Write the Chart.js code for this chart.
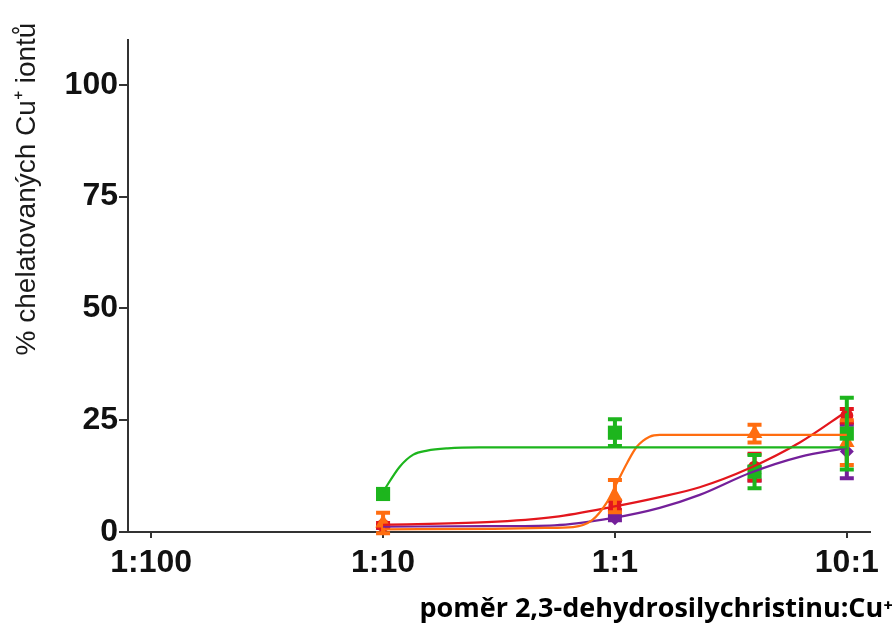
<!DOCTYPE html>
<html>
<head>
<meta charset="utf-8">
<script src="https://cdn.jsdelivr.net/npm/chart.js@4"></script>
<style>
  html, body { margin: 0; padding: 0; background: #fff; }
  canvas { display: block; }
</style>
</head>
<body>
<canvas id="chart" width="896" height="630"></canvas>
<script>
// Ratio ticks (molar ratio of 2,3-dehydrosilychristin to Cu+)
const tickValues = [0.01, 0.1, 1, 10];
const tickLabels = ['1:100', '1:10', '1:1', '10:1'];
const yTickValues = [0, 25, 50, 75, 100];

// Measured ratios
const ratios = [0.1, 1, 4, 10];

// Mean % of chelated Cu+ and error (SD) per series
const greenMean  = [8.5, 22.2, 13.5, 22.0];
const greenErr   = [0,   3.0,  3.7,  8.0];
const orangeMean = [2.0, 8.0,  22.0, 20.0];
const orangeErr  = [2.3, 3.6,  2.0,  5.0];
const redMean    = [1.5, 6.0,  14.5, 26.0];
const redErr     = [0.5, 1.0,  3.0,  1.5];
const purpleMean = [1.2, 3.1,  13.0, 18.0];
const purpleErr  = [0.3, 0.5,  1.5,  6.0];

// Fitted dose-response curves, sampled along the ratio axis
const greenCurveX  = [0.1, 0.118, 0.135, 0.155, 0.19, 0.26, 1, 10];
const greenCurveY  = [9.0, 14.6, 17.3, 18.2, 18.7, 18.9, 18.9, 18.9];
const orangeCurveX = [0.1, 0.3, 0.5, 0.66, 0.8, 0.92, 1.02, 1.13, 1.24, 1.41, 1.56, 2.5, 10];
const orangeCurveY = [0.6, 0.7, 0.9, 1.1, 2.7, 6.5, 11.0, 15.5, 19.0, 21.3, 21.7, 21.7, 21.7];
const redCurveX    = [0.1, 0.28, 0.55, 0.97, 1.56, 2.32, 3.82, 6.27, 10];
const redCurveY    = [1.6, 2.2, 3.4, 5.6, 7.8, 10.0, 14.3, 20.0, 27.0];
const purpleCurveX = [0.1, 0.28, 0.55, 0.97, 1.56, 2.32, 3.82, 6.27, 10];
const purpleCurveY = [1.2, 1.3, 1.5, 3.1, 5.4, 8.3, 13.2, 16.8, 18.8];

const COLORS = {
  green: '#1db51d',
  orange: '#ff6d10',
  red: '#e3161d',
  purple: '#74209a'
};

const pairs = (xs, ys) => xs.map((x, i) => ({ x: x, y: ys[i] }));

function pointSet(color, means, errs, style, radius, order) {
  return {
    data: pairs(ratios, means),
    errors: errs,
    showLine: false,
    pointStyle: style,
    pointRadius: radius,
    pointBackgroundColor: color,
    pointBorderColor: color,
    pointBorderWidth: 0,
    borderColor: color,
    backgroundColor: color,
    order: order
  };
}

function curveSet(color, xs, ys, order) {
  return {
    data: pairs(xs, ys),
    showLine: true,
    borderColor: color,
    borderWidth: 2.2,
    pointRadius: 0,
    cubicInterpolationMode: 'monotone',
    fill: false,
    order: order
  };
}

// Vertical error bars with caps, drawn with each point dataset
const errorBars = {
  id: 'errorBars',
  beforeDatasetDraw(chart, args) {
    const ds = chart.data.datasets[args.index];
    if (!ds.errors) return;
    const ctx = chart.ctx;
    const xs = chart.scales.x, ys = chart.scales.y;
    ctx.save();
    ctx.strokeStyle = ds.borderColor;
    ds.data.forEach((p, i) => {
      const e = ds.errors[i];
      if (!e) return;
      const px = xs.getPixelForValue(p.x);
      const top = ys.getPixelForValue(p.y + e);
      const bot = ys.getPixelForValue(p.y - e);
      ctx.lineWidth = 4;
      ctx.beginPath();
      ctx.moveTo(px, top);
      ctx.lineTo(px, bot);
      ctx.stroke();
      ctx.beginPath();
      ctx.moveTo(px - 7, top); ctx.lineTo(px + 7, top);
      ctx.moveTo(px - 7, bot); ctx.lineTo(px + 7, bot);
      ctx.stroke();
    });
    ctx.restore();
  }
};

// Axis titles
const axisTitles = {
  id: 'axisTitles',
  afterDraw(chart) {
    const ctx = chart.ctx;
    ctx.save();
    ctx.fillStyle = '#1a1a1a';
    ctx.font = '28px "Liberation Sans", Arial, sans-serif';
    ctx.textAlign = 'center';
    ctx.textBaseline = 'middle';
    ctx.translate(27, 189);
    ctx.rotate(-Math.PI / 2);
    ctx.fillText('% chelatovaných Cu\u207A iontů', 0, 0);
    ctx.restore();

    ctx.save();
    ctx.fillStyle = '#000';
    ctx.font = 'bold 27px "Open Sans", Lato, sans-serif';
    ctx.textAlign = 'right';
    ctx.textBaseline = 'alphabetic';
    ctx.fillText('poměr 2,3-dehydrosilychristinu:Cu\u207A', 893, 617);
    ctx.restore();
  }
};

const tickFont = { family: '"Liberation Sans", Arial, sans-serif', size: 32, weight: 'bold' };

new Chart(document.getElementById('chart'), {
  type: 'scatter',
  data: {
    datasets: [
      curveSet(COLORS.green, greenCurveX, greenCurveY, 0),
      curveSet(COLORS.orange, orangeCurveX, orangeCurveY, 1),
      curveSet(COLORS.red, redCurveX, redCurveY, 2),
      curveSet(COLORS.purple, purpleCurveX, purpleCurveY, 3),
      pointSet(COLORS.green, greenMean, greenErr, 'rect', 10, 4),
      pointSet(COLORS.orange, orangeMean, orangeErr, 'triangle', 9, 5),
      pointSet(COLORS.red, redMean, redErr, 'circle', 6.5, 6),
      pointSet(COLORS.purple, purpleMean, purpleErr, 'rectRot', 7, 7)
    ]
  },
  options: {
    responsive: false,
    devicePixelRatio: 1,
    animation: false,
    layout: { padding: { top: 40, right: 26, left: 0, bottom: 0 } },
    plugins: { legend: { display: false }, tooltip: { enabled: false } },
    scales: {
      x: {
        type: 'logarithmic',
        min: 0.01 * Math.pow(10, -0.1),
        max: 10 * Math.pow(10, 0.1),
        afterBuildTicks: (s) => { s.ticks = tickValues.map(v => ({ value: v })); },
        afterFit: (s) => { s.height = 98; },
        ticks: {
          callback: (v, i) => tickLabels[i],
          font: tickFont,
          color: '#111',
          autoSkip: false,
          maxRotation: 0,
          padding: 6
        },
        grid: { drawOnChartArea: false, drawTicks: true, tickLength: 6, color: '#333', lineWidth: 2 },
        border: { display: true, color: '#333', width: 2 }
      },
      y: {
        min: 0,
        max: 110,
        afterBuildTicks: (s) => { s.ticks = yTickValues.map(v => ({ value: v })); },
        afterFit: (s) => { s.width = 128; },
        ticks: {
          font: tickFont,
          color: '#111',
          padding: 1
        },
        grid: { drawOnChartArea: false, drawTicks: true, tickLength: 9, color: '#333', lineWidth: 2 },
        border: { display: true, color: '#333', width: 2 }
      }
    }
  },
  plugins: [errorBars, axisTitles]
});
</script>
</body>
</html>
